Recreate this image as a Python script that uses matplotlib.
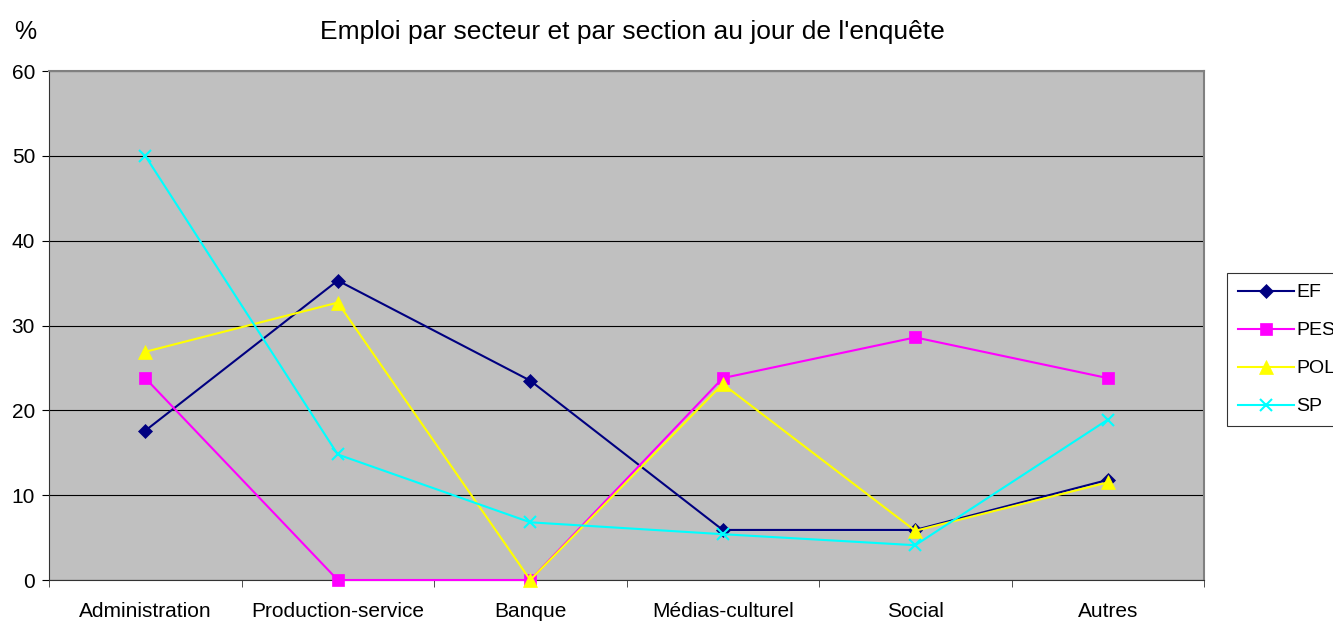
import numpy as np
import matplotlib
matplotlib.use('Agg')
from matplotlib import pyplot as plt

plt.rcParams['font.family'] = ['Liberation Sans', 'DejaVu Sans']

categories = ['Administration', 'Production-service', 'Banque', 'Médias-culturel', 'Social', 'Autres']
ef = [17.6, 35.3, 23.5, 5.9, 5.9, 11.8]
pes = [23.8, 0, 0, 23.8, 28.6, 23.8]
pol = [26.9, 32.7, 0, 23.1, 5.8, 11.5]
sp = [50.0, 14.8, 6.8, 5.4, 4.1, 18.9]

series = [
    ('EF', ef, '#000080', 'D', 7.5),
    ('PES', pes, '#FF00FF', 's', 9),
    ('POL', pol, '#FFFF00', '^', 10),
    ('SP', sp, '#00FFFF', 'x', 9),
]

fig = plt.figure(figsize=(13.33, 6.22), dpi=100)
ax = fig.add_axes([49 / 1333, 1 - 580 / 622, (1204 - 49) / 1333, (580 - 71) / 622])
ax.set_facecolor('#C0C0C0')

x = np.arange(len(categories))
for name, vals, col, mk, ms in series:
    ax.plot(x, vals, color=col, marker=mk, markersize=ms, linewidth=1.5,
            markeredgewidth=1.5 if mk == 'x' else 0.5, markeredgecolor=col,
            label=name, clip_on=False, zorder=3)

ax.set_xlim(-0.5, len(categories) - 0.5)
ax.set_ylim(0, 60)
ax.set_yticks(np.arange(0, 61, 10))
ax.yaxis.grid(True, color='black', linewidth=0.8)
ax.set_axisbelow(True)

ax.set_xticks(x)
ax.set_xticklabels(categories, fontsize=15)
ax.set_xticks(np.arange(-0.5, len(categories), 1), minor=True)
ax.tick_params(axis='x', which='major', length=0, pad=16)
ax.tick_params(axis='x', which='minor', length=5, direction='out', color='#333333')
ax.tick_params(axis='y', length=5, direction='out', labelsize=15, pad=5)

for s in ['top', 'right']:
    ax.spines[s].set_color('#808080')
    ax.spines[s].set_linewidth(1.5)
for s in ['left', 'bottom']:
    ax.spines[s].set_color('#333333')

fig.text(632 / 1333, 1 - 32 / 622, "Emploi par secteur et par section au jour de l'enquête",
         ha='center', va='center', fontsize=19)
fig.text(25 / 1333, 1 - 32 / 622, '%', ha='center', va='center', fontsize=18)

leg = fig.legend(loc='upper left', bbox_to_anchor=(1227 / 1333, 1 - 273 / 622),
                 frameon=True, fancybox=False, edgecolor='black', fontsize=14,
                 borderaxespad=0, handlelength=2.9, labelspacing=1.05, borderpad=0.55,
                 handletextpad=0.1)
leg.get_frame().set_linewidth(0.8)

fig.savefig('out.png', dpi=100)
